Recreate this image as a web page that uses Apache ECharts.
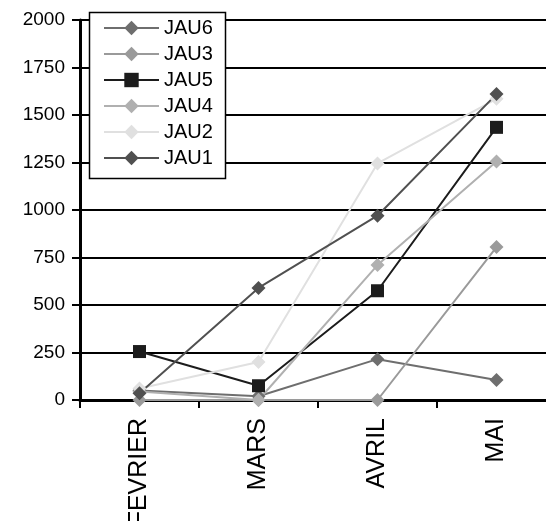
<!DOCTYPE html>
<html><head><meta charset="utf-8">
<script src="https://cdn.jsdelivr.net/npm/echarts@6/dist/echarts.min.js"></script>
<style>html,body{margin:0;padding:0;background:#fff}#c{width:546px;height:521px}</style>
</head><body><div id="c"></div>
<script>
const categories = ['FEVRIER', 'MARS', 'AVRIL', 'MAI'];
const yTicks = [0, 250, 500, 750, 1000, 1250, 1500, 1750, 2000];
const JAU6 = [50, 20, 215, 105];
const JAU3 = [0, 0, 0, 805];
const JAU5 = [255, 75, 575, 1435];
const JAU4 = [45, 0, 710, 1255];
const JAU2 = [60, 200, 1245, 1585];
const JAU1 = [35, 590, 970, 1610];

const seriesDefs = [
  {name: 'JAU6', data: JAU6, color: '#6e6e6e', symbol: 'diamond', size: 14},
  {name: 'JAU3', data: JAU3, color: '#9a9a9a', symbol: 'diamond', size: 14},
  {name: 'JAU5', data: JAU5, color: '#1c1c1c', symbol: 'rect', size: 13},
  {name: 'JAU4', data: JAU4, color: '#b0b0b0', symbol: 'diamond', size: 14},
  {name: 'JAU2', data: JAU2, color: '#e0e0e0', symbol: 'diamond', size: 14},
  {name: 'JAU1', data: JAU1, color: '#505050', symbol: 'diamond', size: 14}
];
const FONT = 'Liberation Sans, Arial, sans-serif';

const chart = echarts.init(document.getElementById('c'));
chart.setOption({
  animation: false,
  textStyle: {fontFamily: FONT, color: '#000'},
  grid: {left: 80, top: 20, width: 476, height: 380, containLabel: false, outerBoundsMode: 'none'},
  graphic: [{
    type: 'rect', z: 50, silent: true,
    shape: {x: 89.5, y: 12.5, width: 136, height: 166},
    style: {fill: '#fff', stroke: '#000', lineWidth: 1.5}
  }],
  legend: {
    orient: 'vertical', left: 103, top: 18, z: 60,
    itemWidth: 55, itemHeight: 18, itemGap: 6,
    padding: 0,
    textStyle: {fontSize: 20, color: '#000', fontFamily: FONT},
    data: seriesDefs.map(s => s.name)
  },
  xAxis: {
    type: 'category', data: categories, boundaryGap: true,
    axisLine: {lineStyle: {color: '#000', width: 3}},
    axisTick: {show: true, length: 8, lineStyle: {color: '#000', width: 2}},
    axisLabel: {rotate: 90, fontSize: 25, color: '#000', margin: 18}
  },
  yAxis: {
    type: 'value', min: yTicks[0], max: yTicks[yTicks.length - 1], interval: 250,
    axisLine: {show: true, lineStyle: {color: '#000', width: 3}},
    axisTick: {show: true, length: 8, lineStyle: {color: '#000', width: 2}},
    axisLabel: {fontSize: 19, color: '#000', margin: 15, formatter: v => String(v)},
    splitLine: {show: true, lineStyle: {color: '#000', width: 2}}
  },
  series: seriesDefs.map(s => ({
    name: s.name, type: 'line', data: s.data,
    symbol: s.symbol, symbolSize: s.size, showAllSymbol: true,
    lineStyle: {color: s.color, width: 2},
    itemStyle: {color: s.color, borderWidth: 0},
    emphasis: {disabled: true}
  }))
});
</script></body></html>
